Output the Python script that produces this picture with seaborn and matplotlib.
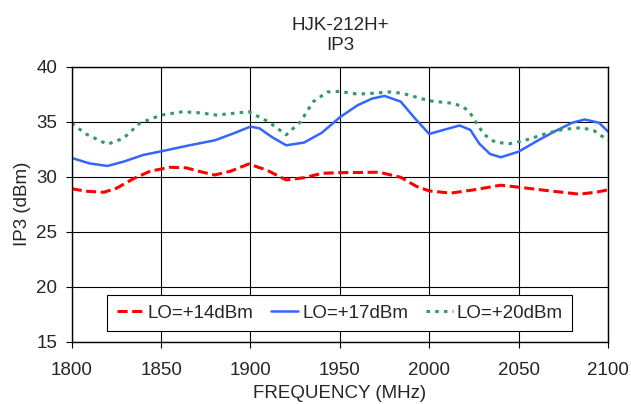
import matplotlib
matplotlib.use("Agg")
import matplotlib.pyplot as plt
import seaborn as sns
import pandas as pd

title = "HJK-212H+\nIP3"
x_label = "FREQUENCY (MHz)"
y_label = "IP3 (dBm)"

lo14_freq = [1800, 1808, 1818, 1825, 1835, 1844, 1855, 1864, 1872, 1880, 1889, 1899, 1909,
             1920, 1930, 1940, 1950, 1972, 1984, 1993, 2000, 2012, 2025, 2040, 2050, 2066,
             2084, 2094, 2100]
lo14_ip3 = [28.9, 28.67, 28.58, 28.94, 29.85, 30.5, 30.85, 30.8, 30.45, 30.15, 30.5, 31.15, 30.6,
            29.7, 29.9, 30.3, 30.36, 30.4, 29.94, 29.1, 28.7, 28.5, 28.8, 29.22, 29.04, 28.73,
            28.4, 28.6, 28.8]

lo17_freq = [1800, 1810, 1820, 1829, 1840, 1850, 1865, 1880, 1890, 1900, 1905, 1912, 1920,
             1930, 1940, 1950, 1960, 1968, 1975, 1984, 1992, 2000, 2008, 2017, 2023, 2028,
             2034, 2040, 2050, 2062, 2071, 2080, 2087, 2095, 2100]
lo17_ip3 = [31.7, 31.2, 30.97, 31.36, 31.97, 32.3, 32.82, 33.3, 33.9, 34.55, 34.4, 33.6, 32.85,
            33.1, 34.0, 35.4, 36.5, 37.1, 37.34, 36.83, 35.3, 33.88, 34.25, 34.65, 34.25, 33.0,
            32.06, 31.76, 32.27, 33.4, 34.18, 34.9, 35.2, 34.9, 34.1]

lo20_freq = [1800, 1808, 1820, 1829, 1838, 1850, 1862, 1872, 1881, 1890, 1899, 1910, 1920,
             1928, 1935, 1943, 1950, 1960, 1970, 1978, 1985, 2000, 2013, 2019, 2023, 2027,
             2031, 2037, 2045, 2053, 2066, 2075, 2085, 2092, 2100]
lo20_ip3 = [34.85, 33.88, 32.94, 33.49, 34.85, 35.6, 35.9, 35.8, 35.6, 35.75, 35.9, 35.0, 33.8,
            35.0, 36.8, 37.7, 37.75, 37.5, 37.6, 37.7, 37.58, 36.9, 36.67, 36.36, 35.76, 34.7,
            33.8, 33.12, 33.0, 33.27, 33.95, 34.3, 34.45, 34.2, 33.3]

series_names = ["LO=+14dBm", "LO=+17dBm", "LO=+20dBm"]
x_ticks = [1800, 1850, 1900, 1950, 2000, 2050, 2100]
y_ticks = [15, 20, 25, 30, 35, 40]

sns.set_style("white")
plt.rcParams['font.family'] = ['Liberation Sans', 'DejaVu Sans']
FS = 13.5

fig = plt.figure(figsize=(6.31, 4.04), dpi=100)
ax = fig.add_axes([71.7 / 631, 1 - 341.5 / 404, (608 - 71.7) / 631, (341.5 - 66.7) / 404])

styles = [
    dict(color="#FF0000", linewidth=2.2, linestyle=(0, (3.3, 1.5))),
    dict(color="#3366FF", linewidth=1.8, linestyle="-"),
    dict(color="#339966", linewidth=2.2, linestyle=(0, (1.15, 1.7))),
]
data = [(lo14_freq, lo14_ip3), (lo17_freq, lo17_ip3), (lo20_freq, lo20_ip3)]
for (fx, fy), name, st in zip(data, series_names, styles):
    df = pd.DataFrame({"freq": fx, "ip3": fy})
    sns.lineplot(data=df, x="freq", y="ip3", ax=ax, label=name, sort=False,
                 color=st["color"], linewidth=st["linewidth"], linestyle=st["linestyle"])

ax.set_xlim(1800, 2100)
ax.set_ylim(15, 40)
ax.set_xticks(x_ticks)
ax.set_yticks(y_ticks)
ax.grid(True, color="black", linewidth=0.8)
for s in ax.spines.values():
    s.set_color("black")
    s.set_linewidth(1.0)
ax.tick_params(axis="x", which="major", length=4, width=0.8, color="black",
               direction="out", labelsize=FS, pad=11, bottom=True)
ax.tick_params(axis="y", which="major", length=4, width=0.8, color="black",
               direction="out", labelsize=FS, pad=6.5, left=True)
ax.set_xlabel(x_label, fontsize=FS, labelpad=4)
ax.set_ylabel(y_label, fontsize=FS, labelpad=4)
ax.set_title(title, fontsize=FS, pad=12, linespacing=1.2)

leg = ax.legend(loc="lower center", bbox_to_anchor=(0.5, 0.038), ncol=3, fontsize=FS,
                frameon=True, fancybox=False, edgecolor="black", framealpha=1,
                handlelength=1.45, handletextpad=0.2, columnspacing=0.95,
                borderpad=0.5, borderaxespad=0)
leg.get_frame().set_linewidth(0.8)

fig.savefig("out.png", dpi=100)
